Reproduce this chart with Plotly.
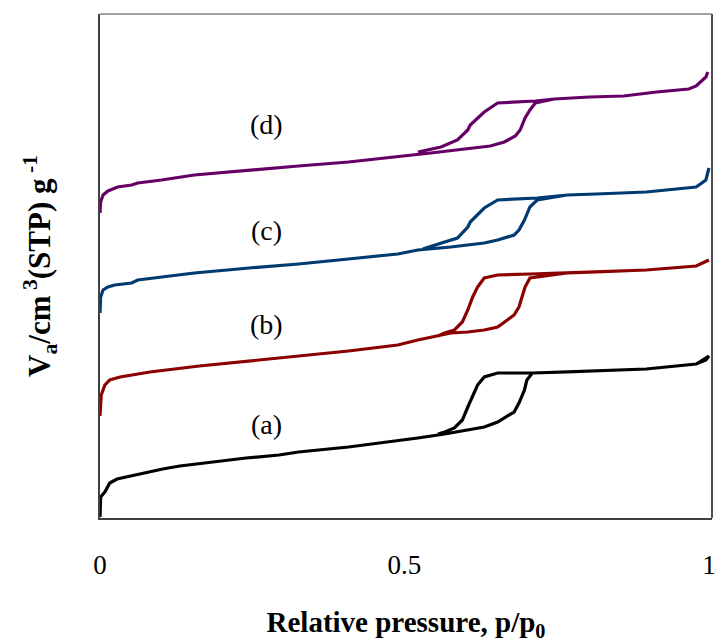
import plotly.graph_objects as go

# Nitrogen sorption isotherms (adsorption then desorption), arbitrary stacked offsets
# Sample (a)
a_ads_x = [0.000, 0.001, 0.008, 0.016, 0.028, 0.049, 0.070, 0.103, 0.131, 0.184, 0.240, 0.294,
           0.326, 0.408, 0.489, 0.522, 0.566, 0.604, 0.631, 0.653, 0.680, 0.688, 0.697, 0.701,
           0.710, 0.767, 0.815, 0.897, 0.979, 0.995, 1.000]
a_ads_y = [1, 21, 26, 35, 39, 42, 45, 49, 52, 56, 60, 63,
           66, 71, 77, 80, 84, 88, 91, 96, 106, 115, 128, 138,
           145, 146, 147, 149, 154, 158, 162]
a_des_x = [1.000, 0.979, 0.897, 0.815, 0.746, 0.710, 0.653, 0.631, 0.620, 0.612, 0.604, 0.595,
           0.582, 0.566, 0.555]
a_des_y = [162, 154, 149, 147, 146, 145, 145, 141, 133, 121, 111, 98,
           90, 86, 84]

# Sample (b)
b_ads_x = [0.000, 0.002, 0.008, 0.016, 0.033, 0.082, 0.163, 0.245, 0.326, 0.408, 0.489, 0.522,
           0.576, 0.604, 0.631, 0.653, 0.669, 0.680, 0.688, 0.693, 0.698, 0.706, 0.767, 0.815,
           0.897, 0.979, 1.000]
b_ads_y = [102, 123, 133, 138, 141, 146, 152, 157, 162, 167, 173, 178,
           185, 186, 188, 191, 198, 203, 211, 221, 231, 240, 245, 246,
           248, 252, 258]
b_des_x = [1.000, 0.979, 0.897, 0.815, 0.767, 0.706, 0.653, 0.631, 0.620, 0.612, 0.604, 0.595,
           0.582, 0.566, 0.555]
b_des_y = [258, 252, 248, 246, 245, 244, 243, 240, 231, 221, 208, 196,
           188, 185, 182]

# Sample (c)
c_ads_x = [0.000, 0.001, 0.005, 0.013, 0.024, 0.052, 0.062, 0.101, 0.155, 0.245, 0.326, 0.408,
           0.489, 0.522, 0.576, 0.631, 0.653, 0.680, 0.688, 0.697, 0.701, 0.706, 0.718, 0.767,
           0.815, 0.897, 0.979, 0.995, 1.000]
c_ads_y = [205, 221, 228, 231, 233, 235, 238, 241, 245, 250, 254, 259,
           264, 268, 271, 275, 278, 283, 288, 298, 303, 311, 318, 323,
           324, 326, 331, 338, 350]
c_des_x = [1.000, 0.995, 0.979, 0.897, 0.815, 0.767, 0.718, 0.653, 0.631, 0.620, 0.608, 0.604,
           0.587, 0.566, 0.543, 0.530]
c_des_y = [350, 338, 331, 326, 324, 323, 320, 318, 310, 303, 296, 291,
           280, 276, 272, 269]

# Sample (d)
d_ads_x = [0.000, 0.001, 0.005, 0.013, 0.029, 0.052, 0.062, 0.101, 0.155, 0.245, 0.326, 0.408,
           0.489, 0.543, 0.599, 0.641, 0.664, 0.682, 0.690, 0.698, 0.706, 0.715, 0.746, 0.804,
           0.860, 0.914, 0.967, 0.979, 0.995, 0.998]
d_ads_y = [305, 316, 323, 327, 331, 333, 335, 338, 343, 348, 352, 356,
           361, 365, 369, 372, 376, 382, 388, 400, 408, 415, 419, 421,
           422, 426, 429, 432, 441, 446]
d_des_x = [0.998, 0.995, 0.979, 0.967, 0.914, 0.860, 0.804, 0.746, 0.715, 0.653, 0.631, 0.620,
           0.608, 0.604, 0.587, 0.560, 0.543, 0.522]
d_des_y = [446, 441, 432, 429, 426, 422, 421, 419, 417, 415, 406, 400,
           393, 388, 378, 371, 369, 366]

samples = [
    ("(a)", a_ads_x, a_ads_y, a_des_x, a_des_y, "#000000"),
    ("(b)", b_ads_x, b_ads_y, b_des_x, b_des_y, "#8B0000"),
    ("(c)", c_ads_x, c_ads_y, c_des_x, c_des_y, "#003A70"),
    ("(d)", d_ads_x, d_ads_y, d_des_x, d_des_y, "#660066"),
]
label_x = [0.274, 0.274, 0.274, 0.274]
label_y = [94, 194, 288, 394]

x_ticks = [0, 0.5, 1]
x_tick_text = ["0", "0.5", "1"]

fig = go.Figure()
for (name, ax, ay, dx, dy, col), lx, ly in zip(samples, label_x, label_y):
    fig.add_trace(go.Scatter(
        x=ax + dx, y=ay + dy, mode="lines", name=name,
        line=dict(color=col, width=3.2), showlegend=False,
    ))
    fig.add_annotation(x=lx, y=ly, text=name, showarrow=False,
                       font=dict(family="Liberation Serif", size=28, color="black"))

serif = "Liberation Serif"
fig.update_layout(
    width=721, height=642,
    margin=dict(l=100, r=5, t=14, b=124),
    paper_bgcolor="white", plot_bgcolor="white",
    font=dict(family=serif, color="black"),
    xaxis=dict(
        range=[0, 1.005], tickvals=x_ticks, ticktext=x_tick_text,
        ticks="", showgrid=False, zeroline=False,
        showline=True, linecolor="#404040", linewidth=2,
        tickfont=dict(family=serif, size=27, color="black"),
        ticklabelstandoff=22,
        title=dict(text="<b>Relative pressure, p/p<sub>0</sub></b>",
                   font=dict(family=serif, size=29, color="black"), standoff=36),
    ),
    yaxis=dict(
        range=[0, 504], showticklabels=False, ticks="", showgrid=False, zeroline=False,
        showline=True, linecolor="#404040", linewidth=1.5,
        title=dict(text="<b>V<sub>a</sub>/cm<sup> 3</sup>(STP) g<sup> -1</sup></b>",
                   font=dict(family=serif, size=31, color="black"), standoff=38),
    ),
)
# Top and right frame lines
fig.add_shape(type="line", xref="paper", yref="paper", x0=0, x1=1, y0=1, y1=1,
              line=dict(color="#808080", width=1.5))
fig.add_shape(type="line", xref="paper", yref="paper", x0=1, x1=1, y0=0, y1=1,
              line=dict(color="#505050", width=2))

fig.write_html("out.html")
